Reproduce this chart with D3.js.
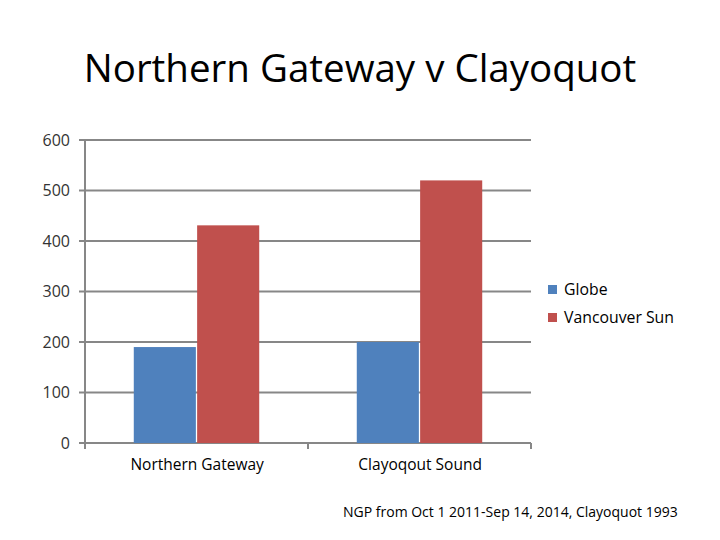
<!DOCTYPE html>
<html>
<head>
<meta charset="utf-8">
<script src="https://cdn.jsdelivr.net/npm/d3@7"></script>
<style>
  body { margin: 0; background: #fff; }
  svg { display: block; font-family: "Open Sans", "Liberation Sans", sans-serif; }
</style>
</head>
<body>
<div id="chart"></div>
<script>
// Chart data
const categories = ["Northern Gateway", "Clayoqout Sound"];
const seriesNames = ["Globe", "Vancouver Sun"];
const globeValues = [190, 200];
const sunValues = [431, 520];
const yTicks = [0, 100, 200, 300, 400, 500, 600];
const colors = ["#4f81bd", "#c0504d"];

const width = 720, height = 540;
const plot = {left: 85, right: 531, top: 140, bottom: 443};

const svg = d3.select("#chart").append("svg")
    .attr("width", width)
    .attr("height", height);

// Title
svg.append("text")
    .attr("x", 360)
    .attr("y", 82)
    .attr("text-anchor", "middle")
    .attr("font-size", 38.5)
    .attr("fill", "#000")
    .text("Northern Gateway v Clayoquot");

// Scales
const x = d3.scaleBand()
    .domain(categories)
    .range([plot.left, plot.right]);

const xInner = d3.scaleBand()
    .domain(seriesNames)
    .range([0, x.bandwidth()])
    .paddingInner(0.02)
    .paddingOuter(0.77);

const y = d3.scaleLinear()
    .domain([0, 600])
    .range([plot.bottom, plot.top]);

// Gridlines
svg.append("g")
    .selectAll("line")
    .data(yTicks)
    .join("line")
    .attr("x1", plot.left - 6)
    .attr("x2", plot.right)
    .attr("y1", d => y(d))
    .attr("y2", d => y(d))
    .attr("stroke", "#878787")
    .attr("stroke-width", 2);

// Bars
const data = categories.map((c, i) => ({cat: c, values: [globeValues[i], sunValues[i]]}));

const groups = svg.append("g")
    .selectAll("g")
    .data(data)
    .join("g")
    .attr("transform", d => `translate(${x(d.cat)},0)`);

groups.selectAll("rect")
    .data(d => d.values.map((v, j) => ({name: seriesNames[j], value: v, j})))
    .join("rect")
    .attr("x", d => xInner(d.name))
    .attr("width", xInner.bandwidth())
    .attr("y", d => y(d.value))
    .attr("height", d => y(0) - y(d.value))
    .attr("fill", d => colors[d.j]);

// Y axis line
svg.append("line")
    .attr("x1", plot.left).attr("x2", plot.left)
    .attr("y1", plot.top).attr("y2", plot.bottom + 6)
    .attr("stroke", "#878787").attr("stroke-width", 2);

// X axis category tick marks
const xEdges = categories.map(c => x(c) + x.bandwidth());
svg.append("g")
    .selectAll("line")
    .data(xEdges)
    .join("line")
    .attr("x1", d => d).attr("x2", d => d)
    .attr("y1", plot.bottom).attr("y2", plot.bottom + 6)
    .attr("stroke", "#878787").attr("stroke-width", 2);

// Y tick labels
svg.append("g")
    .selectAll("text")
    .data(yTicks)
    .join("text")
    .attr("x", 70)
    .attr("y", d => y(d) + 5.5)
    .attr("text-anchor", "end")
    .attr("font-size", 16)
    .attr("fill", "#333")
    .text(d => d);

// X category labels
svg.append("g")
    .selectAll("text")
    .data(categories)
    .join("text")
    .attr("x", d => x(d) + xInner(seriesNames[1]))
    .attr("y", 470)
    .attr("text-anchor", "middle")
    .attr("font-size", 15.5)
    .attr("fill", "#000")
    .text(d => d);

// Legend
const legend = svg.append("g")
    .selectAll("g")
    .data(seriesNames)
    .join("g")
    .attr("transform", (d, i) => `translate(548,${285 + i * 28})`);

legend.append("rect")
    .attr("width", 9).attr("height", 9)
    .attr("fill", (d, i) => colors[i]);

legend.append("text")
    .attr("x", 16)
    .attr("y", 10)
    .attr("font-size", 15.8)
    .attr("fill", "#000")
    .text(d => d);

// Footnote
svg.append("text")
    .attr("x", 343)
    .attr("y", 517)
    .attr("font-size", 14)
    .attr("fill", "#000")
    .text("NGP from Oct 1 2011-Sep 14, 2014, Clayoquot 1993");
</script>
</body>
</html>
